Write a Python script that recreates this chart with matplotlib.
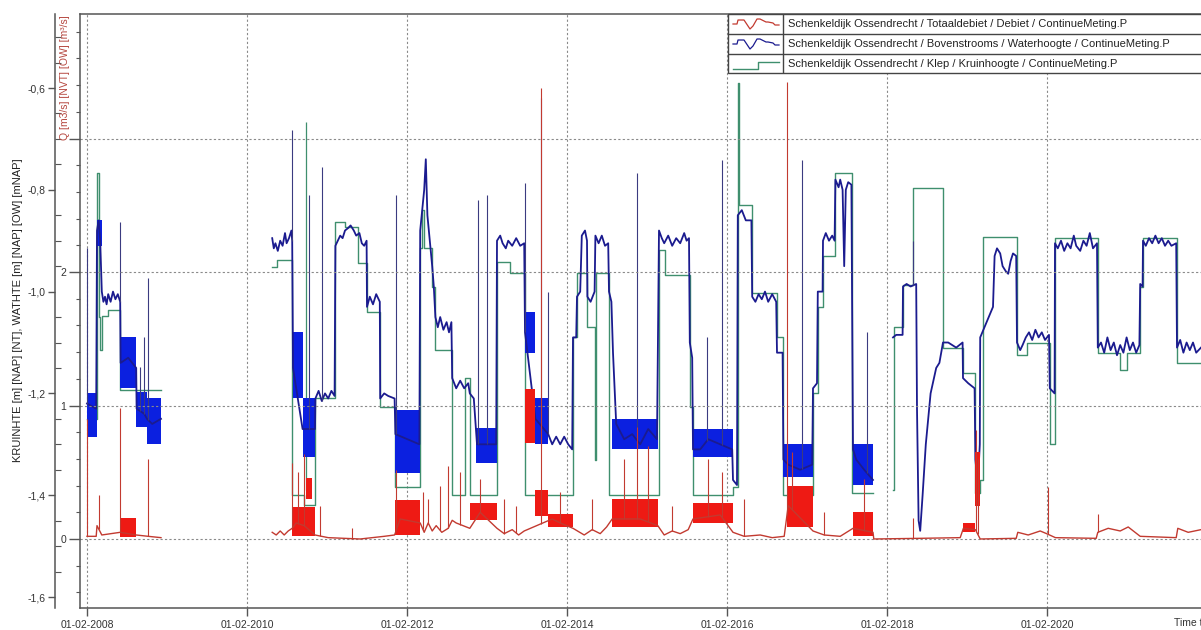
import numpy as np
import matplotlib
matplotlib.use('Agg')
import matplotlib.pyplot as plt
import matplotlib.dates as mdates
from matplotlib.ticker import FixedLocator, MultipleLocator, FuncFormatter
from matplotlib.patches import Rectangle
import datetime as dt

plt.rcParams['font.family'] = ['Liberation Sans', 'DejaVu Sans']

NaN = np.nan
# ---------------- DATA (time in decimal years, value) ----------------
# Bovenstrooms / Waterhoogte [mNAP], three measuring periods
blue_2008 = [(2008.085, -1.22), (2008.20, -1.23), (2008.21, -0.88), (2008.23, -0.86), (2008.25, -0.90),
             (2008.27, -1.00), (2008.29, -1.02), (2008.31, -1.01), (2008.33, -1.025), (2008.35, -1.005),
             (2008.38, -1.02), (2008.41, -1.00), (2008.44, -1.015), (2008.47, -1.005), (2008.50, -1.02),
             (2008.505, -1.14), (2008.60, -1.13), (2008.70, -1.15), (2008.705, -1.23), (2008.80, -1.24),
             (2008.835, -1.25), (2008.90, -1.26), (2009.01, -1.25)]
blue_2010 = [(2010.40, -0.895), (2010.42, -0.915), (2010.44, -0.905), (2010.47, -0.92), (2010.50, -0.90),
             (2010.53, -0.91), (2010.56, -0.885), (2010.58, -0.905), (2010.61, -0.895), (2010.64, -0.88),
             (2010.65, -0.90), (2010.66, -1.15), (2010.78, -1.27), (2010.935, -1.27), (2010.94, -1.21),
             (2010.98, -1.195), (2011.02, -1.215), (2011.06, -1.20), (2011.10, -1.21), (2011.14, -1.195),
             (2011.18, -1.205), (2011.19, -0.91), (2011.22, -0.90), (2011.25, -0.89), (2011.28, -0.895),
             (2011.31, -0.88), (2011.35, -0.875), (2011.38, -0.87), (2011.42, -0.88), (2011.45, -0.89),
             (2011.49, -0.885), (2011.52, -0.905), (2011.55, -0.91), (2011.58, -0.90), (2011.585, -1.03),
             (2011.62, -1.01), (2011.66, -1.025), (2011.70, -1.005), (2011.745, -1.02), (2011.75, -1.21),
             (2011.80, -1.20), (2011.85, -1.205), (2011.93, -1.21), (2011.94, -1.28), (2012.24, -1.30),
             (2012.25, -0.88), (2012.30, -0.80), (2012.32, -0.74), (2012.34, -0.85), (2012.40, -0.95),
             (2012.42, -0.99), (2012.44, -1.05), (2012.47, -1.07), (2012.50, -1.05), (2012.54, -1.075),
             (2012.58, -1.06), (2012.61, -1.08), (2012.64, -1.06), (2012.65, -1.17), (2012.70, -1.19),
             (2012.75, -1.175), (2012.80, -1.19), (2012.85, -1.18), (2012.87, -1.20), (2012.92, -1.21),
             (2012.96, -1.30), (2013.20, -1.30), (2013.21, -0.90), (2013.25, -0.89), (2013.28, -0.905),
             (2013.32, -0.915), (2013.35, -0.90), (2013.40, -0.91), (2013.45, -0.895), (2013.50, -0.91),
             (2013.55, -0.905), (2013.56, -1.08), (2013.69, -1.25), (2013.85, -1.28), (2013.90, -1.30),
             (2013.95, -1.285), (2014.00, -1.30), (2014.05, -1.285), (2014.10, -1.30), (2014.15, -1.31),
             (2014.16, -1.09), (2014.20, -1.09), (2014.21, -1.01), (2014.25, -1.00), (2014.27, -0.89),
             (2014.31, -0.88), (2014.335, -0.90), (2014.34, -1.01), (2014.38, -1.02), (2014.43, -1.00),
             (2014.44, -0.89), (2014.48, -0.905), (2014.52, -0.89), (2014.56, -0.91), (2014.60, -0.905),
             (2014.61, -1.00), (2014.64, -1.02), (2014.66, -1.12), (2014.70, -1.26), (2014.80, -1.29),
             (2014.90, -1.28), (2015.00, -1.30), (2015.10, -1.27), (2015.21, -1.29), (2015.235, -0.88),
             (2015.27, -0.895), (2015.30, -0.905), (2015.35, -0.89), (2015.40, -0.91), (2015.45, -0.895),
             (2015.50, -0.905), (2015.55, -0.885), (2015.58, -0.90), (2015.61, -0.895), (2015.62, -1.10),
             (2015.65, -1.13), (2015.66, -1.31), (2015.75, -1.31), (2015.85, -1.29), (2016.00, -1.30),
             (2016.15, -1.31), (2016.16, -1.37), (2016.21, -1.38), (2016.22, -0.85), (2016.27, -0.84),
             (2016.32, -0.86), (2016.39, -0.86), (2016.40, -1.01), (2016.44, -1.02), (2016.48, -1.005),
             (2016.52, -1.015), (2016.56, -1.00), (2016.60, -1.02), (2016.65, -1.005), (2016.70, -1.02),
             (2016.71, -1.12), (2016.78, -1.12), (2016.79, -1.33), (2016.85, -1.34), (2017.00, -1.35),
             (2017.15, -1.34), (2017.16, -1.19), (2017.21, -1.18), (2017.22, -1.00), (2017.28, -1.00),
             (2017.285, -0.90), (2017.32, -0.885), (2017.36, -0.90), (2017.40, -0.89), (2017.43, -0.90),
             (2017.44, -0.78), (2017.48, -0.795), (2017.50, -0.78), (2017.53, -0.80), (2017.55, -0.95),
             (2017.57, -0.80), (2017.60, -0.785), (2017.64, -0.79), (2017.66, -1.31), (2017.70, -1.33),
             (2017.80, -1.35), (2017.91, -1.37)]
blue_2018 = [(2018.16, -1.09), (2018.20, -1.085), (2018.28, -1.085), (2018.285, -0.99), (2018.33, -0.985),
             (2018.38, -0.99), (2018.45, -0.985), (2018.46, -1.23), (2018.48, -1.45), (2018.50, -1.47),
             (2018.53, -1.40), (2018.57, -1.30), (2018.63, -1.20), (2018.70, -1.15), (2018.74, -1.14),
             (2018.785, -1.10), (2018.85, -1.10), (2018.95, -1.11), (2019.03, -1.10), (2019.035, -1.17),
             (2019.10, -1.18), (2019.18, -1.19), (2019.19, -1.33), (2019.22, -1.38), (2019.245, -1.30),
             (2019.25, -1.09), (2019.33, -1.06), (2019.41, -1.03), (2019.43, -0.93), (2019.46, -0.915),
             (2019.50, -0.925), (2019.53, -0.95), (2019.57, -0.96), (2019.60, -0.965), (2019.63, -0.94),
             (2019.66, -0.925), (2019.70, -0.93), (2019.71, -1.10), (2019.75, -1.115), (2019.78, -1.105),
             (2019.82, -1.09), (2019.86, -1.08), (2019.90, -1.095), (2019.94, -1.075), (2019.98, -1.09),
             (2020.02, -1.08), (2020.06, -1.095), (2020.11, -1.085), (2020.12, -1.19), (2020.18, -1.20),
             (2020.185, -0.905), (2020.22, -0.915), (2020.26, -0.90), (2020.30, -0.92), (2020.34, -0.905),
             (2020.38, -0.915), (2020.42, -0.89), (2020.45, -0.91), (2020.50, -0.92), (2020.54, -0.90),
             (2020.58, -0.91), (2020.62, -0.885), (2020.66, -0.915), (2020.71, -0.905), (2020.72, -1.11),
             (2020.76, -1.10), (2020.80, -1.12), (2020.84, -1.09), (2020.88, -1.115), (2020.92, -1.10),
             (2020.96, -1.125), (2021.00, -1.105), (2021.04, -1.12), (2021.08, -1.09), (2021.12, -1.115),
             (2021.16, -1.10), (2021.20, -1.12), (2021.24, -1.105), (2021.25, -0.985), (2021.28, -0.99),
             (2021.285, -0.90), (2021.32, -0.91), (2021.36, -0.895), (2021.40, -0.905), (2021.44, -0.89),
             (2021.48, -0.905), (2021.52, -0.895), (2021.56, -0.91), (2021.60, -0.90), (2021.64, -0.91),
             (2021.70, -0.905), (2021.71, -1.11), (2021.75, -1.095), (2021.79, -1.12), (2021.83, -1.10),
             (2021.87, -1.115), (2021.91, -1.10), (2021.95, -1.12), (2022.01, -1.11)]
# dense oscillation bands of the water level: start, end, low, high
bband_start = [2008.085, 2008.21, 2008.50, 2008.70, 2008.835, 2010.655, 2010.78, 2011.935, 2012.95, 2013.56, 2013.685, 2014.65, 2015.66, 2016.79, 2017.66]
bband_end   = [2008.21, 2008.27, 2008.70, 2008.835, 2009.01, 2010.78, 2010.935, 2012.25, 2013.21, 2013.685, 2013.85, 2015.22, 2016.16, 2017.16, 2017.91]
bband_lo    = [-1.285, -0.91, -1.19, -1.266, -1.30, -1.21, -1.325, -1.357, -1.337, -1.12, -1.30, -1.31, -1.325, -1.365, -1.38]
bband_hi    = [-1.20, -0.86, -1.09, -1.197, -1.21, -1.08, -1.21, -1.233, -1.267, -1.04, -1.21, -1.25, -1.27, -1.30, -1.30]
# isolated water level peaks
bspike_t = [2008.09, 2008.50, 2008.75, 2008.80, 2008.85, 2010.65, 2010.86, 2011.02, 2011.95, 2012.97, 2013.085,
            2013.56, 2013.76, 2013.85, 2014.96, 2015.835, 2016.02, 2017.02, 2017.835, 2018.41, 2019.25]
bspike_v = [-0.914, -0.863, -1.148, -1.09, -0.973, -0.683, -0.81, -0.755, -0.81, -0.82, -0.81,
            -0.787, -0.62, -1.00, -0.767, -1.09, -0.741, -0.741, -1.08, -0.90, -1.09]

# Klep / Kruinhoogte [m NAP] (step series)
green_t = [2008.085, 2008.21, 2008.23, 2008.25, 2008.27, 2008.35, 2008.50, 2009.01,
           2010.40, 2010.46, 2010.65, 2010.80, 2010.94, 2011.19, 2011.31, 2011.47, 2011.585, 2011.75, 2011.935,
           2012.25, 2012.27, 2012.30, 2012.40, 2012.435, 2012.65, 2012.81, 2012.87, 2013.21, 2013.37, 2013.56,
           2014.16, 2014.21, 2014.335, 2014.435, 2014.45, 2014.61, 2015.235, 2015.31, 2015.62, 2015.66, 2016.16,
           2016.22, 2016.235, 2016.40, 2016.71, 2016.785, 2017.16, 2017.22, 2017.285, 2017.435, 2017.65, 2017.91,
           2018.16, 2018.17, 2018.285, 2018.41, 2018.785, 2019.035, 2019.19, 2019.25, 2019.285, 2019.71, 2019.835,
           2020.12, 2020.185, 2020.72, 2021.00, 2021.085, 2021.25, 2021.285, 2021.71, 2022.01]
green_v = [-1.25, -0.767, -1.05, -1.115, -1.048, -1.036, -1.193, NaN,
           -0.952, -0.938, -1.40, -1.42, -1.21, -0.863, -0.873, -0.944, -1.04, -1.227, -1.384,
           -0.914, -0.84, -0.914, -0.99, -1.115, -1.40, -1.17, -1.40, -0.942, -0.963, -1.40,
           -1.09, -0.963, -1.07, -1.33, -0.963, -1.40, -0.918, -0.967, -1.227, -1.40, -1.384,
           -0.59, -0.83, -1.003, -1.089, -1.40, -1.199, -1.03, -0.93, -0.767, -1.395, NaN,
           -1.39, -1.07, -0.987, -0.797, -1.11, -1.16, -1.395, -1.37, -0.892, -1.125, -1.10,
           -1.30, -0.895, -1.12, -1.154, -1.12, -0.99, -0.895, -1.14, -1.14]
gspike_t = [2010.82]
gspike_v = [-0.667]

# Totaaldebiet / Debiet [m3/s]
red_t = [2008.085, 2008.20, 2008.21, 2008.27, 2008.50, 2008.70, 2008.85, 2009.01, 2009.02,
         2010.40, 2010.45, 2010.50, 2010.55, 2010.60, 2010.65, 2010.70, 2010.80, 2010.935, 2011.10, 2011.50,
         2011.80, 2011.93, 2012.00, 2012.25, 2012.30, 2012.35, 2012.40, 2012.45, 2012.52, 2012.60, 2012.65,
         2012.70, 2012.87, 2013.00, 2013.21, 2013.30, 2013.40, 2013.48, 2013.55, 2013.90, 2014.00, 2014.16,
         2014.30, 2014.40, 2014.50, 2014.58, 2014.65, 2015.00, 2015.22, 2015.30, 2015.40, 2015.50, 2015.60,
         2015.66, 2016.00, 2016.16, 2016.30, 2016.50, 2016.65, 2016.80, 2016.85, 2017.16, 2017.30, 2017.50,
         2017.66, 2017.91, 2017.92, 2018.50, 2019.00, 2019.04, 2019.19, 2019.25, 2019.70, 2019.72, 2019.85,
         2020.00, 2020.08, 2020.19, 2020.70, 2020.72, 2020.85, 2021.00, 2021.10, 2021.25, 2021.70, 2021.72,
         2021.85, 2022.01]
red_q = [0.02, 0.02, 0.10, 0.03, 0.05, 0.03, 0.02, 0.01, NaN,
         0.05, 0.03, 0.06, 0.03, 0.06, 0.08, 0.12, 0.10, 0.03, 0.01, 0.00,
         0.02, 0.03, 0.15, 0.12, 0.05, 0.12, 0.06, 0.10, 0.05, 0.08, 0.14,
         0.12, 0.08, 0.20, 0.08, 0.04, 0.07, 0.03, 0.06, 0.15, 0.12, 0.08,
         0.03, 0.07, 0.04, 0.09, 0.15, 0.15, 0.10, 0.03, 0.06, 0.04, 0.07,
         0.15, 0.18, 0.05, 0.02, 0.03, 0.01, 0.02, 0.25, 0.06, 0.03, 0.02,
         0.08, 0.05, 0.00, 0.005, 0.01, 0.08, 0.07, 0.00, 0.005, 0.05, 0.03,
         0.06, 0.04, 0.01, 0.005, 0.05, 0.08, 0.06, 0.09, 0.02, 0.01, 0.08,
         0.05, 0.07]
rband_start = [2008.50, 2010.65, 2010.82, 2011.935, 2012.87, 2013.56, 2013.685, 2013.85, 2014.65, 2015.66, 2016.835, 2017.66, 2019.035, 2019.19]
rband_end   = [2008.70, 2010.935, 2010.90, 2012.25, 2013.21, 2013.685, 2013.85, 2014.16, 2015.22, 2016.16, 2017.16, 2017.91, 2019.185, 2019.25]
rband_lo    = [0.015, 0.02, 0.30, 0.03, 0.14, 0.72, 0.17, 0.09, 0.09, 0.12, 0.09, 0.02, 0.05, 0.25]
rband_hi    = [0.16, 0.24, 0.46, 0.29, 0.27, 1.12, 0.37, 0.19, 0.30, 0.27, 0.40, 0.20, 0.12, 0.65]
rspike_t = [2008.09, 2008.23, 2008.50, 2008.85, 2010.65, 2010.72, 2010.80, 2011.00, 2011.40, 2011.95, 2012.28,
            2012.35, 2012.50, 2012.60, 2012.75, 2013.00, 2013.30, 2013.45, 2013.76, 2014.00, 2014.40, 2014.80,
            2014.96, 2015.10, 2015.40, 2015.85, 2016.02, 2016.30, 2016.835, 2016.90, 2017.30, 2017.80, 2018.41,
            2019.20, 2019.22, 2020.10, 2020.72]
rspike_q = [0.90, 0.33, 0.98, 0.60, 0.57, 0.50, 0.64, 0.25, 0.08, 0.52, 0.35,
            0.30, 0.40, 0.55, 0.50, 0.45, 0.30, 0.25, 3.38, 0.35, 0.30, 0.60,
            0.84, 0.70, 0.25, 0.60, 0.50, 0.30, 3.42, 0.65, 0.20, 0.45, 0.16,
            0.82, 0.60, 0.39, 0.19]

xtick_years = [2008, 2010, 2012, 2014, 2016, 2018, 2020, 2022]
legend_labels = ['Schenkeldijk Ossendrecht / Totaaldebiet / Debiet / ContinueMeting.P',
                 'Schenkeldijk Ossendrecht / Bovenstrooms / Waterhoogte / ContinueMeting.P',
                 'Schenkeldijk Ossendrecht / Klep / Kruinhoogte / ContinueMeting.P']

# ---------------- helpers ----------------
EPOCH = mdates.date2num(dt.datetime(1970, 1, 1))
def yr(a):
    return EPOCH + (np.asarray(a, dtype=float) - 1970.0) * 365.2425

def base_of(t, v, ts):
    t = np.asarray(t, float); v = np.asarray(v, float)
    m = ~np.isnan(v)
    return np.interp(ts, t[m], v[m])

blue_t, blue_v = [], []
for seg in (blue_2008, blue_2010, blue_2018):
    blue_t += [p[0] for p in seg] + [seg[-1][0] + 0.001]
    blue_v += [p[1] for p in seg] + [NaN]

W, H = 1201, 630
def fx(px): return px / W
def fy(py): return 1 - py / H

C_BLUE = '#1b1b8f'
C_BLUEF = '#0b20e0'
C_BSPK = '#3b3b80'
C_GREEN = '#3f8f6e'
C_RED = '#c23a30'
C_REDF = '#ee1a14'
C_GRID = '#8a8a8a'
C_AX = '#555555'

fig = plt.figure(figsize=(W / 100, H / 100), dpi=100)
ax = fig.add_axes([fx(80), fy(608), fx(1201) - fx(80), fy(14) - fy(608)])
ax2 = ax.twinx()

# water level axis (outer left)
ax.set_ylim(-1.6216, -0.4546)
ax.spines['left'].set_position(('outward', 18))
ax.spines['right'].set_visible(False)
ax2.spines['right'].set_visible(False)
ax2.spines['top'].set_visible(False)
ax2.spines['bottom'].set_visible(False)
ax2.spines['left'].set_visible(True)
for s in ['left', 'top', 'bottom']:
    ax.spines[s].set_color(C_AX); ax.spines[s].set_linewidth(1.1)
ax2.spines['left'].set_color(C_AX); ax2.spines['left'].set_linewidth(1.1)

ax.yaxis.set_major_locator(FixedLocator([-0.6, -0.8, -1.0, -1.2, -1.4, -1.6]))
ax.yaxis.set_minor_locator(MultipleLocator(0.05))
ax.yaxis.set_major_formatter(FuncFormatter(lambda v, p: f'{v:.1f}'.replace('.', ',')))
ax.tick_params(axis='y', which='major', direction='out', length=5, width=1, color=C_AX,
               labelsize=7.5, labelcolor='#333333', pad=2)
ax.tick_params(axis='y', which='minor', direction='in', length=4, width=0.8, color=C_AX)

# Q axis (inner left)
ax2.yaxis.tick_left()
ax2.set_ylim(-0.517, 3.933)
ax2.yaxis.set_major_locator(FixedLocator([0, 1, 2, 3]))
ax2.yaxis.set_minor_locator(MultipleLocator(0.2))
ax2.yaxis.set_major_formatter(FuncFormatter(lambda v, p: '' if v > 2.5 else f'{v:.0f}'))
ax2.tick_params(axis='y', which='major', direction='out', length=8, width=1, color=C_AX,
                labelsize=7.5, labelcolor='#333333', pad=2, left=True, right=False, labelleft=True, labelright=False)
ax2.tick_params(axis='y', which='minor', direction='out', length=3, width=0.8, color=C_AX, left=True, right=False)

# x axis
xlo, xhi = yr(2007.9975), yr(2022.01)
ax.set_xlim(xlo, xhi)
xt = [mdates.date2num(dt.datetime(y, 2, 1)) for y in xtick_years]
ax.xaxis.set_major_locator(FixedLocator(xt))
ax.xaxis.set_major_formatter(FuncFormatter(lambda v, p: mdates.num2date(v).strftime('%d-%m-%Y')))
ax.tick_params(axis='x', which='major', direction='out', length=6, width=1, color=C_AX,
               labelsize=7.5, labelcolor='#333333', pad=3)

# grid
for x in xt:
    ax.axvline(x, color=C_GRID, lw=0.8, ls=(0, (2, 2)), zorder=0)
for q in [0, 1, 2, 3]:
    ax2.axhline(q, color=C_GRID, lw=0.8, ls=(0, (2, 2)), zorder=0)

# green step series
ax.plot(yr(green_t), green_v, drawstyle='steps-post', color=C_GREEN, lw=1.0, zorder=2)
gb = base_of(green_t, green_v, gspike_t)
ax.vlines(yr(gspike_t), gb, gspike_v, color=C_GREEN, lw=0.9, zorder=2)

# blue series
for s, e, lo, hi in zip(bband_start, bband_end, bband_lo, bband_hi):
    ax.fill_between(yr([s, e]), [lo, lo], [hi, hi], color=C_BLUEF, lw=0, zorder=3)
ax.plot(yr(blue_t), blue_v, color=C_BLUE, lw=1.3, zorder=4)
bb = base_of(blue_t, blue_v, bspike_t)
ax.vlines(yr(bspike_t), bb, bspike_v, color=C_BSPK, lw=0.8, zorder=4)

# red series
for s, e, lo, hi in zip(rband_start, rband_end, rband_lo, rband_hi):
    ax2.fill_between(yr([s, e]), [lo, lo], [hi, hi], color=C_REDF, lw=0, zorder=3)
ax2.plot(yr(red_t), red_q, color=C_RED, lw=1.0, zorder=4)
rb = base_of(red_t, red_q, rspike_t)
ax2.vlines(yr(rspike_t), rb, rspike_q, color=C_RED, lw=0.8, zorder=4)
ax2.set_xlim(xlo, xhi)

# axis labels
fig.text(fx(18), fy(310), 'KRUINHTE [m] [NAP] [NT], WATHTE [m] [NAP] [OW] [mNAP]', rotation=90,
         ha='center', va='center', fontsize=8, color='#222222')
fig.text(fx(65), fy(15), 'Q [m3/s] [NVT] [OW] [m³/s]', rotation=90, ha='center', va='top',
         fontsize=7.5, color='#b5473f')
fig.text(fx(1174), fy(623), 'Time t', ha='left', va='center', fontsize=7.5, color='#333333')

# legend (drawn in pixel coordinates)
leg = fig.add_axes([fx(727), fy(74), fx(1201) - fx(727), fy(13) - fy(74)])
leg.set_xlim(727, 1201); leg.set_ylim(74, 13)
leg.axis('off')
leg.add_patch(Rectangle((727.5, 14), 480, 59, fc='white', ec='#444444', lw=1.0, clip_on=False))
leg.hlines([33.5, 53.5], 727.5, 1201, color='#444444', lw=1.0)
leg.vlines(783, 14, 73, color='#444444', lw=1.0)
icon_x = np.array([733, 737, 738, 744, 746, 750, 753, 757, 760, 766, 768, 773, 775, 779])
icon_y = np.array([8, 8, 4, 4, 7, 13, 10, 3, 3, 6, 6, 7, 9, 9])
for i, c in enumerate([C_RED, C_BLUE]):
    y0 = 14 + 20 * i
    leg.plot(icon_x, y0 + icon_y * 1.0 + 2, color=c, lw=0.9)
leg.plot([733, 758, 758, 779], [69, 69, 62, 62], color=C_GREEN, lw=1.0)
for i, lab in enumerate(legend_labels):
    leg.text(788, 24 + 20 * i, lab, ha='left', va='center', fontsize=8, color='#222222')

fig.savefig('out.png', dpi=100)
